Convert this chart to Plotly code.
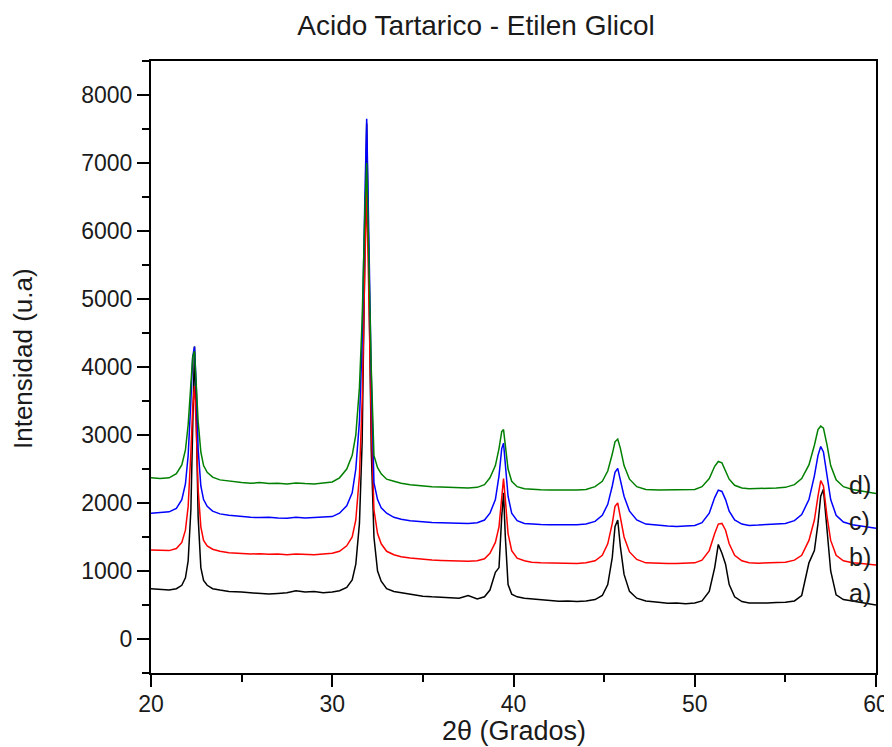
import plotly.graph_objects as go

# 2-theta grid (degrees)
two_theta = [
    20.0, 20.5, 21.0, 21.4, 21.7, 21.9, 22.05, 22.2, 22.3, 22.4, 22.5, 22.6, 22.75, 22.9, 23.1, 23.4, 23.8, 24.3,
    25.0, 25.5, 26.0, 26.5, 27.0, 27.5, 28.0, 28.5, 29.0, 29.5,
    30.0, 30.4, 30.8, 31.1, 31.3, 31.5, 31.65, 31.8, 31.9, 32.0, 32.15, 32.3, 32.5, 32.7, 33.0, 33.4, 33.8, 34.3,
    35.0, 35.5, 36.0, 36.5, 37.0, 37.5, 38.0, 38.4, 38.7, 39.0, 39.2, 39.35, 39.45, 39.55, 39.7, 39.9, 40.2, 40.6,
    41.0, 41.5, 42.0, 42.5, 43.0, 43.5, 44.0, 44.5, 44.9, 45.2, 45.45, 45.6, 45.75, 45.9, 46.1, 46.4, 46.8, 47.3,
    48.0, 48.5, 49.0, 49.5, 50.0, 50.4, 50.8, 51.1, 51.3, 51.5, 51.7, 51.9, 52.2, 52.6, 53.0, 53.5, 54.0,
    54.5, 55.0, 55.5, 55.9, 56.3, 56.6, 56.8, 56.95, 57.1, 57.3, 57.5, 57.8, 58.2, 58.7, 59.2, 59.6, 60.0,
]

intensity_a = [
    740, 730, 720, 740, 790, 900, 1150, 1900, 3300, 4300, 3200, 1800, 1050, 860, 790, 740, 720, 700,
    690, 680, 670, 660, 670, 680, 710, 690, 700, 680,
    690, 710, 760, 870, 1100, 1700, 2900, 5600, 7580, 5800, 2800, 1500, 1000, 850, 740, 700, 680, 660,
    630, 620, 610, 600, 600, 640, 590, 620, 720, 980, 1050, 1800, 2150, 1500, 800, 660, 620, 600,
    590, 570, 560, 555, 560, 550, 560, 580, 640, 800, 1200, 1650, 1750, 1350, 950, 700, 600, 560,
    540, 525, 530, 520, 530, 560, 700, 1050, 1390, 1260, 1100, 800, 620, 550, 530, 525, 530,
    535, 540, 560, 640, 1120, 1300, 1700, 2100, 2200, 1650, 1000, 650, 580, 560, 540, 520, 500,
]

intensity_b = [
    1310, 1300, 1300, 1330, 1420, 1600, 1950, 2750, 3400, 3720, 3100, 2200, 1650, 1450, 1370, 1320, 1290, 1270,
    1260, 1250, 1255, 1245, 1250, 1240, 1250, 1245, 1240, 1250,
    1260, 1290, 1370, 1500, 1750, 2400, 3500, 5500, 6600, 5300, 3200, 1900, 1550, 1400, 1290, 1240, 1210, 1190,
    1170, 1160, 1155, 1150, 1150, 1145, 1150, 1180, 1260, 1420, 1650, 2100, 2360, 2050, 1550, 1300, 1190, 1150,
    1130, 1120, 1115, 1110, 1110, 1110, 1120, 1150, 1230, 1400, 1700, 1950, 2000, 1800, 1500, 1280, 1170, 1120,
    1110, 1110, 1110, 1115, 1120, 1160, 1300, 1550, 1690, 1700, 1600, 1400, 1230, 1150, 1120, 1115, 1120,
    1125, 1130, 1160, 1230, 1450, 1750, 2100, 2330, 2250, 1800, 1450, 1230, 1150, 1120, 1110, 1100, 1090,
]

intensity_c = [
    1850, 1860, 1870, 1920, 2050, 2280, 2700, 3500, 4150, 4300, 3700, 2800, 2250, 2050, 1950, 1880, 1840, 1820,
    1800, 1790, 1785, 1790, 1780, 1775, 1790, 1780, 1785, 1790,
    1800, 1850, 1960, 2150, 2500, 3200, 4400, 6500, 7650, 6200, 3900, 2300, 2050, 1930, 1850, 1790, 1760, 1740,
    1720, 1715, 1710, 1705, 1700, 1700, 1710, 1750, 1850, 2050, 2400, 2800, 2880, 2550, 2100, 1850, 1740, 1700,
    1690, 1685, 1680, 1680, 1675, 1680, 1690, 1730, 1820, 1980, 2250, 2450, 2510, 2350, 2100, 1880, 1750, 1690,
    1670, 1660, 1655, 1660, 1670, 1710, 1850, 2080, 2190, 2170, 2050, 1880, 1750, 1690, 1670, 1675, 1680,
    1690, 1700, 1740, 1830, 2050, 2400, 2700, 2830, 2750, 2400, 2050, 1820, 1720, 1680, 1660, 1640, 1630,
]

intensity_d = [
    2370, 2360, 2370, 2430, 2560, 2780, 3150, 3750, 4150, 4230, 3800, 3200, 2750, 2550, 2450, 2380, 2340, 2320,
    2300, 2290, 2300, 2285, 2290, 2280, 2295, 2285, 2280, 2295,
    2310, 2370, 2500, 2700, 3000, 3700, 4700, 6300, 7000, 5800, 4000, 2700, 2520, 2430, 2350, 2320, 2290, 2270,
    2250, 2240, 2235, 2230, 2225, 2220, 2230, 2270, 2370, 2550, 2800, 3050, 3080, 2850, 2500, 2320, 2240, 2210,
    2200, 2195, 2190, 2190, 2185, 2190, 2200, 2240, 2320, 2470, 2720, 2900, 2940, 2800, 2550, 2350, 2240, 2200,
    2190, 2195, 2190, 2195, 2200, 2240, 2360, 2540, 2610, 2590, 2480, 2350, 2260, 2220, 2210, 2210, 2215,
    2220, 2230, 2270, 2360, 2560, 2850, 3080, 3130, 3100, 2850, 2550, 2340, 2240, 2200, 2180, 2160, 2140,
]

series_labels = ["a)", "b)", "c)", "d)"]
series_values = [intensity_a, intensity_b, intensity_c, intensity_d]
series_colors = ["#000000", "#ff0000", "#0000ff", "#008000"]
label_x = [59.1, 59.1, 59.1, 59.1]
label_y = [680, 1200, 1730, 2270]

x_title = "2θ (Grados)"
y_title = "Intensidad (u.a)"
chart_title = "Acido Tartarico - Etilen Glicol"

# the page body adds an 8px margin; the figure is sized to compensate
W, H, OFF = 884, 739, 8
ML, MT = 151 - OFF, 61 - OFF
MR = W + OFF - 876
MB = H + OFF - 673
TXT = "#1a1a1a"

fig = go.Figure()
for name, vals, col in zip(series_labels, series_values, series_colors):
    fig.add_trace(go.Scatter(x=two_theta, y=vals, mode="lines", name=name,
                             line=dict(color=col, width=1.5), showlegend=False))

for name, lx, ly in zip(series_labels, label_x, label_y):
    fig.add_annotation(x=lx, y=ly, xref="x", yref="y", text=name, showarrow=False,
                       font=dict(size=25, color=TXT, family="Arial"))

# axis titles
fig.add_annotation(x=0.5, y=0, xref="paper", yref="paper", text=x_title, showarrow=False,
                   xanchor="center", yanchor="middle", yshift=-58,
                   font=dict(size=27, color=TXT, family="Arial"))
fig.add_annotation(x=0, y=(673 - 359) / 612, xref="paper", yref="paper", text=y_title, showarrow=False,
                   xanchor="center", yanchor="middle", xshift=-128, textangle=-90,
                   font=dict(size=26, color=TXT, family="Arial"))

axis_common = dict(
    showline=True, linecolor="black", linewidth=2, mirror=True,
    ticks="outside", ticklen=12, tickwidth=2, tickcolor="black",
    showgrid=False, zeroline=False, automargin=False,
    tickfont=dict(size=23, color=TXT, family="Arial"),
)

fig.update_xaxes(range=[20, 60], tick0=20, dtick=10, ticklabelstandoff=-3,
                 minor=dict(ticks="outside", ticklen=7, tickwidth=2, tickcolor="black", dtick=5, showgrid=False),
                 **axis_common)
fig.update_yaxes(range=[-500, 8500], tick0=0, dtick=1000,
                 minor=dict(ticks="outside", ticklen=7, tickwidth=2, tickcolor="black", dtick=500, showgrid=False),
                 **axis_common)

fig.update_layout(
    width=W, height=H,
    margin=dict(l=ML, r=MR, t=MT, b=MB),
    plot_bgcolor="white", paper_bgcolor="white",
    title=dict(text=chart_title, x=(476 - OFF) / W, xanchor="center",
               y=1 - (25 - OFF) / H, yanchor="middle", xref="container", yref="container",
               font=dict(size=28, color=TXT, family="Arial")),
)

fig.write_html("out.html")
